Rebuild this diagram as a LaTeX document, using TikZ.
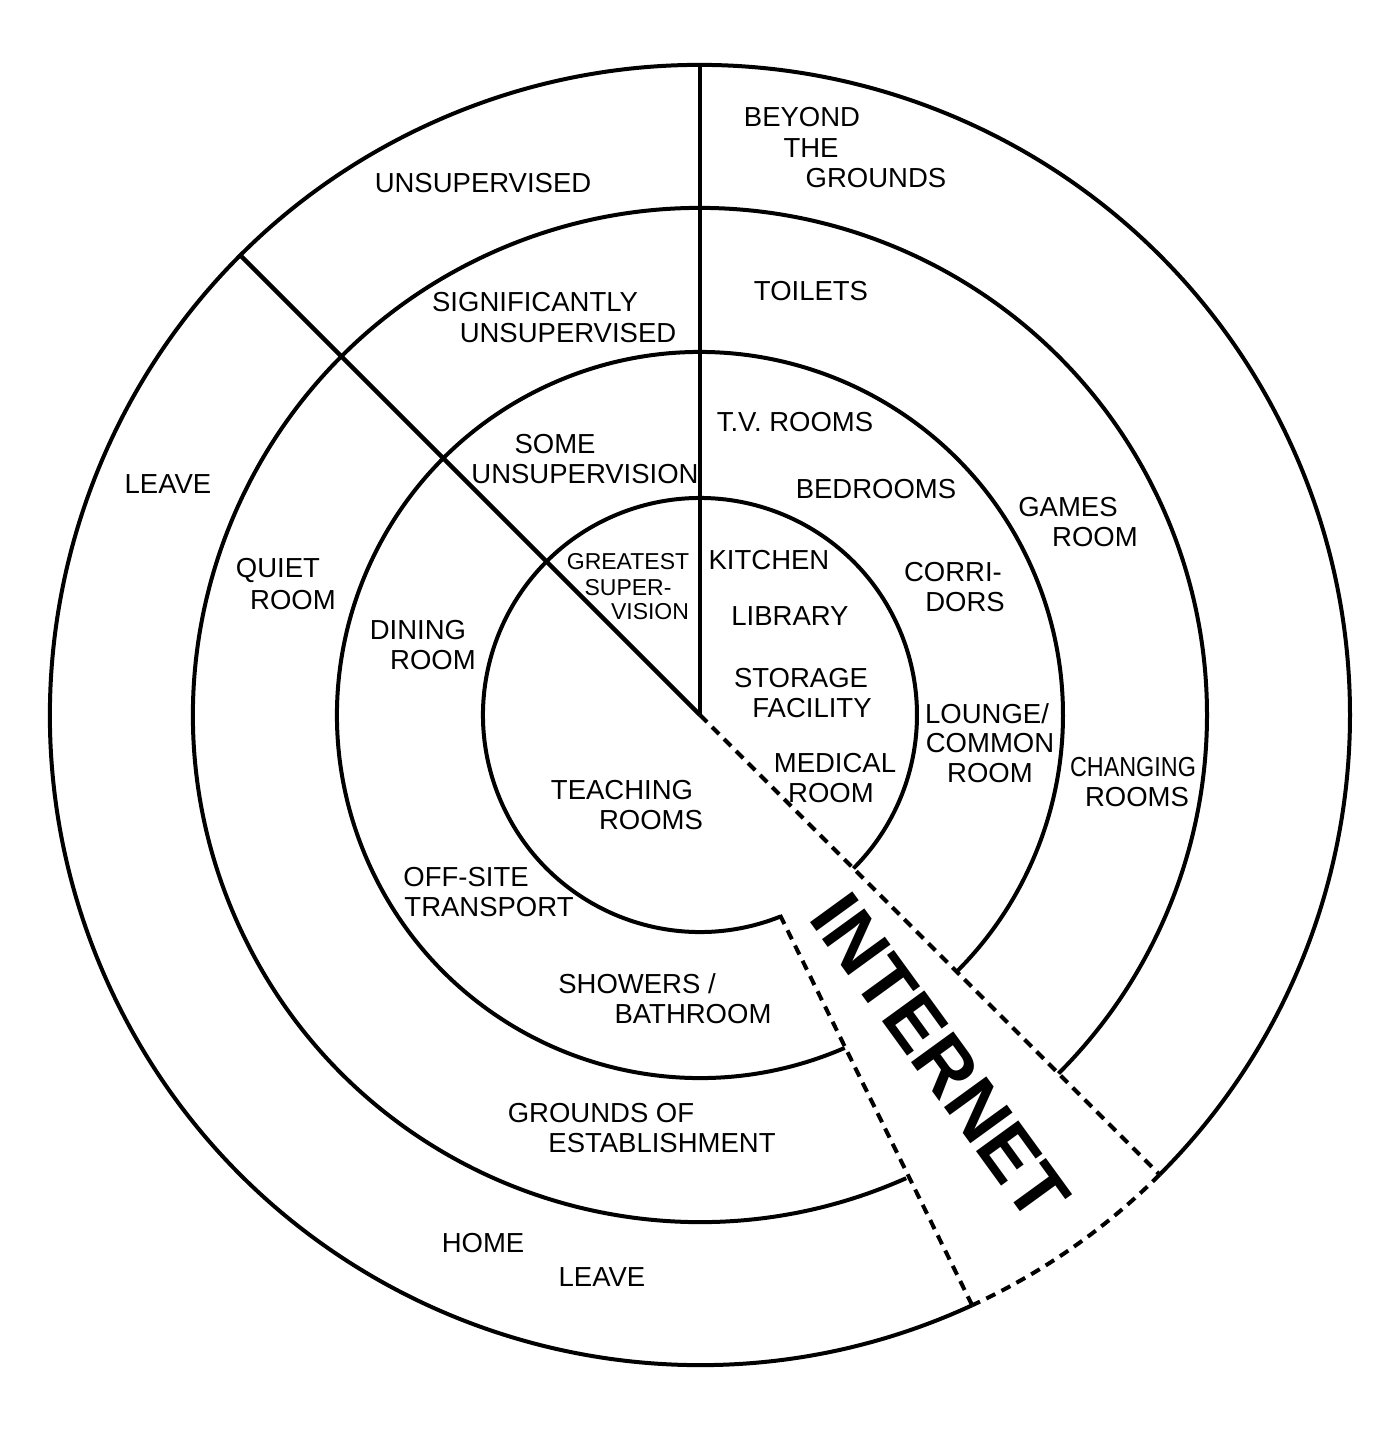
\documentclass[tikz,border=0pt]{standalone}
\usepackage{fontspec}
\setmainfont{Liberation Sans}
\usetikzlibrary{calc}
\begin{document}
\begin{tikzpicture}[x=1pt,y=-1pt,
  ring/.style={line width=4pt},
  divider/.style={line width=4.3pt},
  dashline/.style={line width=4pt,dash pattern=on 10pt off 7pt},
  lbl/.style={font=\fontsize{27.5}{30}\selectfont,inner sep=0pt,align=center},
  small/.style={font=\fontsize{23}{25}\selectfont,inner sep=0pt,align=center}]
\useasboundingbox (0,0) rectangle (1398,1436);
\coordinate (C) at (700,715);
% rings with gap
\draw[ring] ($(C)+(68.2:217)$) arc[start angle=68.2,end angle=405,radius=217];
\draw[ring] ($(C)+(66.5:363)$) arc[start angle=66.5,end angle=405,radius=363];
\draw[ring] ($(C)+(66:507)$) arc[start angle=66,end angle=405,radius=507];
\draw[ring] ($(C)+(65.25:650)$) arc[start angle=65.25,end angle=405,radius=650];
\draw[dashline] ($(C)+(45:650)$) arc[start angle=45,end angle=65.25,radius=650];
% dividers
\coordinate (top) at (700,65);
\coordinate (nw) at ($(C)+(225:650)$);
\coordinate (se) at ($(C)+(45:650)$);
\coordinate (d1) at (780,915);
\coordinate (d2) at (972,1305);
\draw[divider] (C) -- (top);
\draw[divider] (C) -- (nw);
\draw[dashline] (C) -- (se);
\draw[dashline] (d1) -- (d2);
% labels
\node[lbl] (b1) at (802,117) {BEYOND};
\node[lbl] (b2) at (811,148) {THE};
\node[lbl] (b3) at (876,178) {GROUNDS};
\node[lbl] (uns) at (483,183) {UNSUPERVISED};
\node[lbl] (toi) at (811,291) {TOILETS};
\node[lbl] (sig1) at (535,302) {SIGNIFICANTLY};
\node[lbl] (sig2) at (568,333) {UNSUPERVISED};
\node[lbl] (lv) at (168,484) {LEAVE};
\node[lbl] (tv) at (795,422) {T.V. ROOMS};
\node[lbl] (so1) at (555,444) {SOME};
\node[lbl] (so2) at (585,474) {UNSUPERVISION};
\node[lbl] (bed) at (876,489) {BEDROOMS};
\node[lbl] (g1) at (1068,507) {GAMES};
\node[lbl] (g2) at (1095,537) {ROOM};
\node[lbl] (q1) at (278,570) {QUIET};
\node[lbl] (q2) at (293,600) {ROOM};
\node[small] (gr1) at (628,562) {GREATEST};
\node[small] (gr2) at (628,588) {SUPER-};
\node[small] (gr3) at (650,612) {VISION};
\node[lbl] (kit) at (769,560) {KITCHEN};
\node[lbl] (co1) at (953,572) {CORRI-};
\node[lbl] (co2) at (965,602) {DORS};
\node[lbl] (lib) at (790,616) {LIBRARY};
\node[lbl] (di1) at (418,630) {DINING};
\node[lbl] (di2) at (433,660) {ROOM};
\node[lbl] (st1) at (801,678) {STORAGE};
\node[lbl] (st2) at (812,708) {FACILITY};
\node[lbl] (lo1) at (987,714) {LOUNGE/};
\node[lbl] (lo2) at (990,743) {COMMON};
\node[lbl] (lo3) at (990,773) {ROOM};
\node[lbl] (me1) at (835,763) {MEDICAL};
\node[lbl] (me2) at (831,793) {ROOM};
\node[lbl,xscale=0.85] (ch1) at (1133,767) {CHANGING};
\node[lbl] (ch2) at (1137,797) {ROOMS};
\node[lbl] (te1) at (622,790) {TEACHING};
\node[lbl] (te2) at (651,820) {ROOMS};
\node[lbl] (of1) at (466,877) {OFF-SITE};
\node[lbl] (of2) at (489,907) {TRANSPORT};
\node[lbl] (sh1) at (637,984) {SHOWERS /};
\node[lbl] (sh2) at (693,1014) {BATHROOM};
\node[lbl] (gd1) at (601,1113) {GROUNDS OF};
\node[lbl] (gd2) at (662,1143) {ESTABLISHMENT};
\node[lbl] (ho) at (483,1243) {HOME};
\node[lbl] (hl) at (602,1277) {LEAVE};
\node[inner sep=0pt,font=\bfseries\fontsize{76}{80}\selectfont,rotate=-54] (net) at (940,1057) {INTERNET};
\end{tikzpicture}
\end{document}
